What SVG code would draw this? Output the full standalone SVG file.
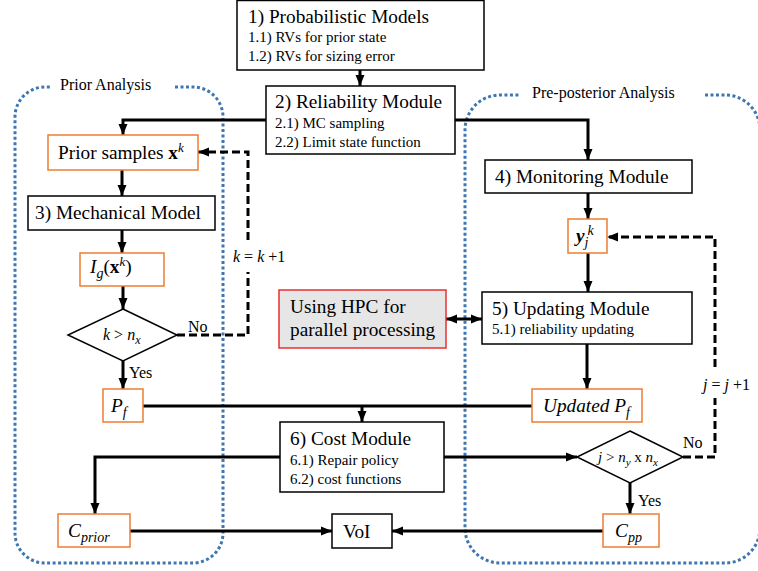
<svg xmlns="http://www.w3.org/2000/svg" width="758" height="571" viewBox="0 0 758 571">
<style>
text{font-family:'Liberation Serif','Times New Roman','DejaVu Serif',serif;fill:#000}
.t{font-size:19.3px}
.s{font-size:15px}
.l{font-size:16px}
.i{font-style:italic}
.b{fill:#fff;stroke:#000;stroke-width:1.5}
.o{fill:#fff;stroke:#ed7d31;stroke-width:1.5}
.c{fill:none;stroke:#000;stroke-width:3}
.d{fill:none;stroke:#000;stroke-width:3;stroke-dasharray:8 4}
.reg{fill:none;stroke:#3f77b0;stroke-width:3;stroke-dasharray:3 2.5}
</style>
<defs>
<marker id="a" markerUnits="userSpaceOnUse" markerWidth="12" markerHeight="12" viewBox="0 0 12 12" refX="11" refY="6" orient="auto">
<path d="M0,1.5 L11,6 L0,10.5 Z" fill="#000"/>
</marker>
<marker id="as" markerUnits="userSpaceOnUse" markerWidth="12" markerHeight="12" viewBox="0 0 12 12" refX="1" refY="6" orient="auto">
<path d="M12,1.5 L1,6 L12,10.5 Z" fill="#000"/>
</marker>
</defs>

<g id="regions">
<path class="reg" d="M175,87 H193 A30,30 0 0 1 223,117 V533 A30,30 0 0 1 193,563 H45 A30,30 0 0 1 15,533 V117 A30,30 0 0 1 45,87 H50"/>
<text class="l" x="60" y="90">Prior Analysis</text>
<path class="reg" d="M705,95 H725 A35,35 0 0 1 760,130 V528 A35,35 0 0 1 725,563 H500 A35,35 0 0 1 465,528 V130 A35,35 0 0 1 500,95 H520"/>
<text class="l" x="532" y="98">Pre-posterior Analysis</text>
</g>

<g id="connectors">
<path class="c" d="M360,70 V86" marker-end="url(#a)"/>
<path class="c" d="M266,120 H123 V135" marker-end="url(#a)"/>
<path class="c" d="M455,120 H588 V160" marker-end="url(#a)"/>
<path class="c" d="M122,170 V196" marker-end="url(#a)"/>
<path class="c" d="M122,230 V253" marker-end="url(#a)"/>
<path class="c" d="M123,286 V309" marker-end="url(#a)"/>
<path class="c" d="M123,361 V389" marker-end="url(#a)"/>
<path class="d" d="M177,335 H248 V272"/>
<path class="d" d="M248,240 V152 H198" marker-end="url(#a)"/>
<path class="c" d="M588,193 V219" marker-end="url(#a)"/>
<path class="c" d="M588,253 V292" marker-end="url(#a)"/>
<path class="c" d="M587,344 V389" marker-end="url(#a)"/>
<path class="c" d="M446,319 H482" marker-start="url(#as)" marker-end="url(#a)"/>
<path class="c" d="M143,406 H532"/>
<path class="c" d="M362,406 V422" marker-end="url(#a)"/>
<path class="c" d="M280,457 H95 V514" marker-end="url(#a)"/>
<path class="c" d="M444,457 H577" marker-end="url(#a)"/>
<path class="d" d="M683,457 H715 V398"/>
<path class="d" d="M715,367 V237 H607" marker-end="url(#a)"/>
<path class="c" d="M630,483 V514" marker-end="url(#a)"/>
<path class="c" d="M130,531 H332" marker-end="url(#a)"/>
<path class="c" d="M603,531 H392" marker-end="url(#a)"/>
<text class="l" x="188" y="332">No</text>
<text class="l" x="129" y="378">Yes</text>
<text class="l" x="233" y="262"><tspan class="i">k</tspan> = <tspan class="i">k</tspan> +1</text>
<text class="l" x="683" y="448">No</text>
<text class="l" x="638" y="506">Yes</text>
<text class="l" x="703" y="390"><tspan class="i">j</tspan> = <tspan class="i">j</tspan> +1</text>
</g>

<g id="n1">
<rect class="b" x="237" y="0.5" width="247" height="69.5"/>
<text class="t" x="248" y="23">1) Probabilistic Models</text>
<text class="s" x="248" y="42">1.1) RVs for prior state</text>
<text class="s" x="248" y="61">1.2) RVs for sizing error</text>
</g>

<g id="n2">
<rect class="b" x="266" y="86" width="189" height="68"/>
<text class="t" x="275" y="108">2) Reliability Module</text>
<text class="s" x="275" y="128">2.1) MC sampling</text>
<text class="s" x="275" y="147">2.2) Limit state function</text>
</g>

<g id="prior">
<rect class="o" x="48" y="135" width="150" height="35"/>
<text class="t" x="58" y="159">Prior samples <tspan font-weight="bold">x</tspan><tspan class="i" font-size="13" dy="-7">k</tspan></text>
</g>

<g id="n3">
<rect class="b" x="28" y="196" width="187" height="34"/>
<text class="t" x="35" y="219">3) Mechanical Model</text>
</g>

<g id="ig">
<rect class="o" x="80" y="253" width="84" height="33"/>
<text class="t" x="90" y="273"><tspan class="i">I</tspan><tspan class="i" font-size="14" dy="5">g</tspan><tspan dy="-5">(</tspan><tspan font-weight="bold">x</tspan><tspan class="i" font-size="13" dy="-7">k</tspan><tspan dy="7">)</tspan></text>
</g>

<g id="dk">
<polygon points="123,309 177,335 123,361 68,335" fill="#fff" stroke="#000" stroke-width="1.5"/>
<text class="l" x="103" y="340"><tspan class="i">k</tspan> &gt; <tspan class="i">n</tspan><tspan class="i" font-size="12" dy="4">x</tspan></text>
</g>

<g id="pf">
<rect class="o" x="103" y="389" width="40" height="33"/>
<text class="t" x="111" y="412"><tspan class="i">P</tspan><tspan class="i" font-size="14" dy="5">f</tspan></text>
</g>

<g id="n4">
<rect class="b" x="485" y="160" width="207" height="33"/>
<text class="t" x="495" y="183">4) Monitoring Module</text>
</g>

<g id="yj">
<rect class="o" x="568" y="219" width="39" height="34"/>
<text class="t" x="576" y="242"><tspan class="i" font-weight="bold">y</tspan><tspan class="i" font-size="14" dy="5">j</tspan><tspan class="i" font-size="14" dx="-1" dy="-12">k</tspan></text>
</g>

<g id="hpc">
<rect x="279" y="290" width="167" height="58" fill="#e6e6e6" stroke="#e83030" stroke-width="1.5"/>
<text class="t" x="290" y="313">Using HPC for</text>
<text class="t" x="290" y="336">parallel processing</text>
</g>

<g id="n5">
<rect class="b" x="482" y="292" width="210" height="52"/>
<text class="t" x="492" y="315">5) Updating Module</text>
<text class="s" x="492" y="334">5.1) reliability updating</text>
</g>

<g id="upf">
<rect class="o" x="532" y="389" width="110" height="33"/>
<text class="t i" x="543" y="412">Updated <tspan>P</tspan><tspan font-size="14" dy="5">f</tspan></text>
</g>

<g id="n6">
<rect class="b" x="280" y="422" width="164" height="70"/>
<text class="t" x="290" y="445">6) Cost Module</text>
<text class="s" x="290" y="465">6.1) Repair policy</text>
<text class="s" x="290" y="484">6.2) cost functions</text>
</g>

<g id="dj">
<polygon points="630,431 683,457 630,483 577,457" fill="#fff" stroke="#000" stroke-width="1.5"/>
<text class="s" x="598" y="462"><tspan class="i">j</tspan> &gt; <tspan class="i">n</tspan><tspan class="i" font-size="11" dy="4">y</tspan><tspan dy="-4"> x </tspan><tspan class="i">n</tspan><tspan class="i" font-size="11" dy="4">x</tspan></text>
</g>

<g id="cprior">
<rect class="o" x="58" y="514" width="72" height="33"/>
<text class="t i" x="68" y="537">C<tspan font-size="14" dy="5">prior</tspan></text>
</g>

<g id="voi">
<rect class="b" x="332" y="514" width="60" height="34"/>
<text class="t" x="343" y="538">VoI</text>
</g>

<g id="cpp">
<rect class="o" x="603" y="514" width="56" height="33"/>
<text class="t i" x="615" y="537">C<tspan font-size="14" dy="5">pp</tspan></text>
</g>
</svg>
